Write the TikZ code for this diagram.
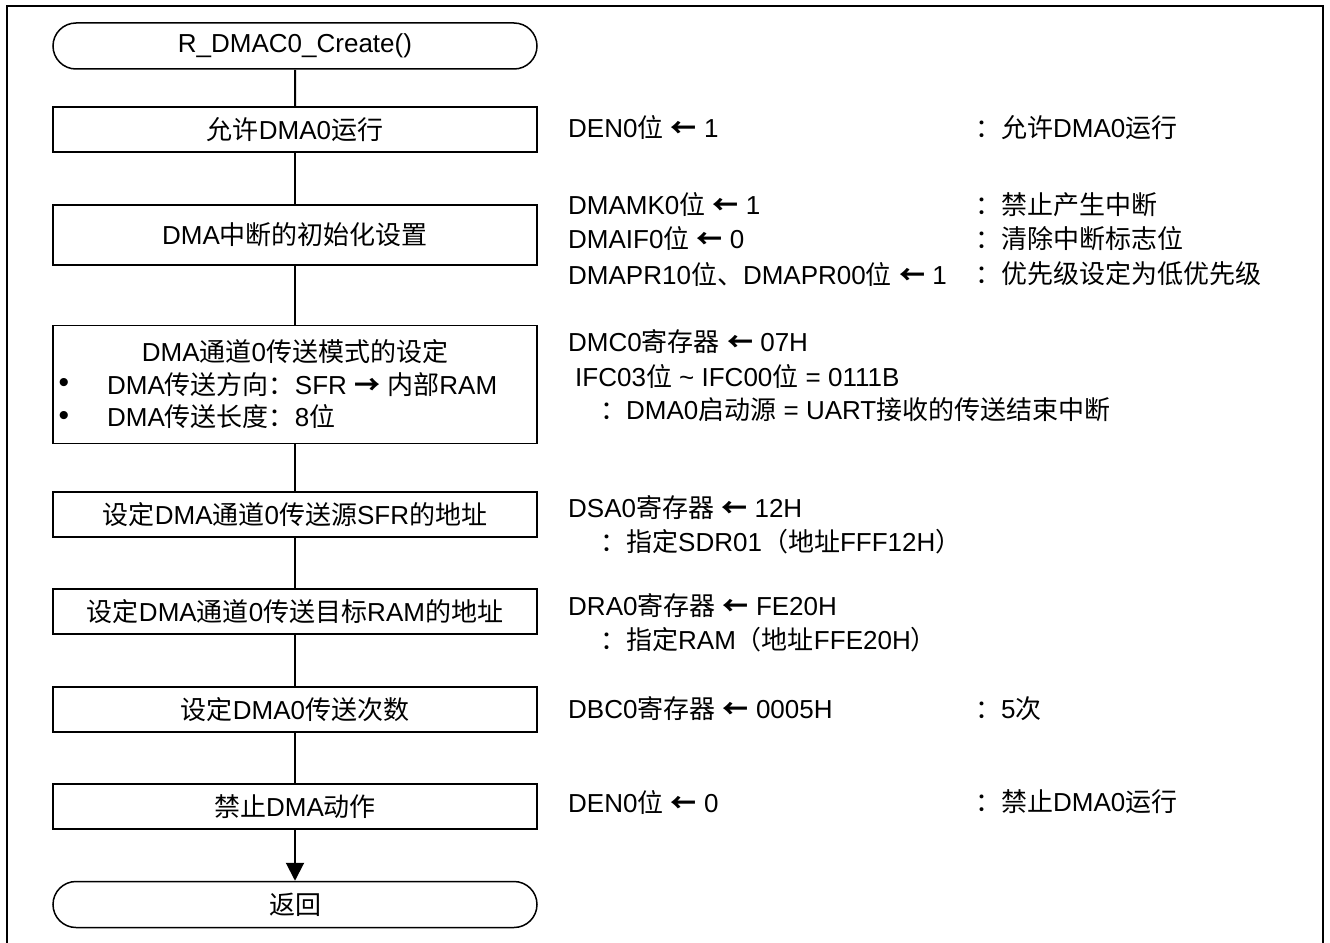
\documentclass[tikz,border=0pt]{standalone}
\usepackage{fontspec}
\setmainfont{Liberation Sans}
\newfontfamily\cjk{Noto Sans CJK SC}
\usetikzlibrary{shapes.misc,arrows.meta}
\newcommand\zh[1]{{\cjk #1}}
\newcommand\la{{\cjk\bfseries ←}}
\newcommand\bul{{\fontsize{30}{30}\selectfont •}}
\begin{document}
\begin{tikzpicture}[x=1pt,y=-1pt,
  font=\fontsize{26}{30}\selectfont,
  box/.style={draw, line width=1.5pt, minimum width=484pt, inner sep=0pt, anchor=center},
  term/.style={box, rounded rectangle, minimum height=46pt},
  conn/.style={line width=2pt},
  rtxt/.style={anchor=west, inner sep=0pt}]
\useasboundingbox (0,0) rectangle (1330,942);
\draw[line width=2.5pt] (7,6) rectangle (1323,960);

\node[term] (start) at (295,46) {R\_DMAC0\_Create()};
\node[box, minimum height=45pt] (b1) at (295,129.5) {\zh{允许}DMA0\zh{运行}};
\node[box, minimum height=60pt] (b2) at (295,235) {DMA\zh{中断的初始化设置}};
\node[box, minimum height=118pt] (b3) at (295,384.5) {};
\node[rtxt, anchor=center] (b3a) at (295,352) {DMA\zh{通道}0\zh{传送模式的设定}};
\node[rtxt, anchor=center] (b3b1) at (64,385) {\bul};
\node[rtxt] (b3b) at (107,385) {DMA\zh{传送方向：}SFR {\cjk\bfseries →} \zh{内部}RAM};
\node[rtxt, anchor=center] (b3c1) at (64,418) {\bul};
\node[rtxt] (b3c) at (107,417) {DMA\zh{传送长度：}8\zh{位}};
\node[box, minimum height=45pt] (b4) at (295,514.5) {\zh{设定}DMA\zh{通道}0\zh{传送源}SFR\zh{的地址}};
\node[box, minimum height=45pt] (b5) at (295,611.5) {\zh{设定}DMA\zh{通道}0\zh{传送目标}RAM\zh{的地址}};
\node[box, minimum height=45pt] (b6) at (295,709.5) {\zh{设定}DMA0\zh{传送次数}};
\node[box, minimum height=45pt] (b7) at (295,806.5) {\zh{禁止}DMA\zh{动作}};
\node[term] (end) at (295,904.5) {\zh{返回}};

\draw[conn] (start) -- (b1);
\draw[conn] (b1) -- (b2);
\draw[conn] (b2) -- (b3);
\draw[conn] (b3) -- (b4);
\draw[conn] (b4) -- (b5);
\draw[conn] (b5) -- (b6);
\draw[conn] (b6) -- (b7);
\draw[conn, -{Triangle[width=18pt,length=18pt]}] (b7) -- (end);

\node[rtxt] (r1) at (568,128) {DEN0\zh{位} \la{} 1};
\node[rtxt] (c1) at (975,128) {\zh{：允许}DMA0\zh{运行}};
\node[rtxt] (r2a) at (568,205) {DMAMK0\zh{位} \la{} 1};
\node[rtxt] (c2a) at (975,205) {\zh{：禁止产生中断}};
\node[rtxt] (r2b) at (568,239) {DMAIF0\zh{位} \la{} 0};
\node[rtxt] (c2b) at (975,239) {\zh{：清除中断标志位}};
\node[rtxt] (r2c) at (568,274) {DMAPR10\zh{位、}DMAPR00\zh{位} \la{} 1};
\node[rtxt] (c2c) at (975,274) {\zh{：优先级设定为低优先级}};
\node[rtxt] (r3a) at (568,342) {DMC0\zh{寄存器} \la{} 07H};
\node[rtxt] (r3b) at (575,376) {IFC03\zh{位} \textasciitilde{} IFC00\zh{位} = 0111B};
\node[rtxt] (r3c) at (600,410) {\zh{：}DMA0\zh{启动源} = UART\zh{接收的传送结束中断}};
\node[rtxt] (r4a) at (568,508) {DSA0\zh{寄存器} \la{} 12H};
\node[rtxt] (r4b) at (600,542) {\zh{：指定}SDR01\zh{（地址}FFF12H\zh{）}};
\node[rtxt] (r5a) at (568,606) {DRA0\zh{寄存器} \la{} FE20H};
\node[rtxt] (r5b) at (600,640) {\zh{：指定}RAM\zh{（地址}FFE20H\zh{）}};
\node[rtxt] (r6) at (568,709) {DBC0\zh{寄存器} \la{} 0005H};
\node[rtxt] (c6) at (975,709) {\zh{：}5\zh{次}};
\node[rtxt] (r7) at (568,802) {DEN0\zh{位} \la{} 0};
\node[rtxt] (c7) at (975,802) {\zh{：禁止}DMA0\zh{运行}};
\end{tikzpicture}
\end{document}
